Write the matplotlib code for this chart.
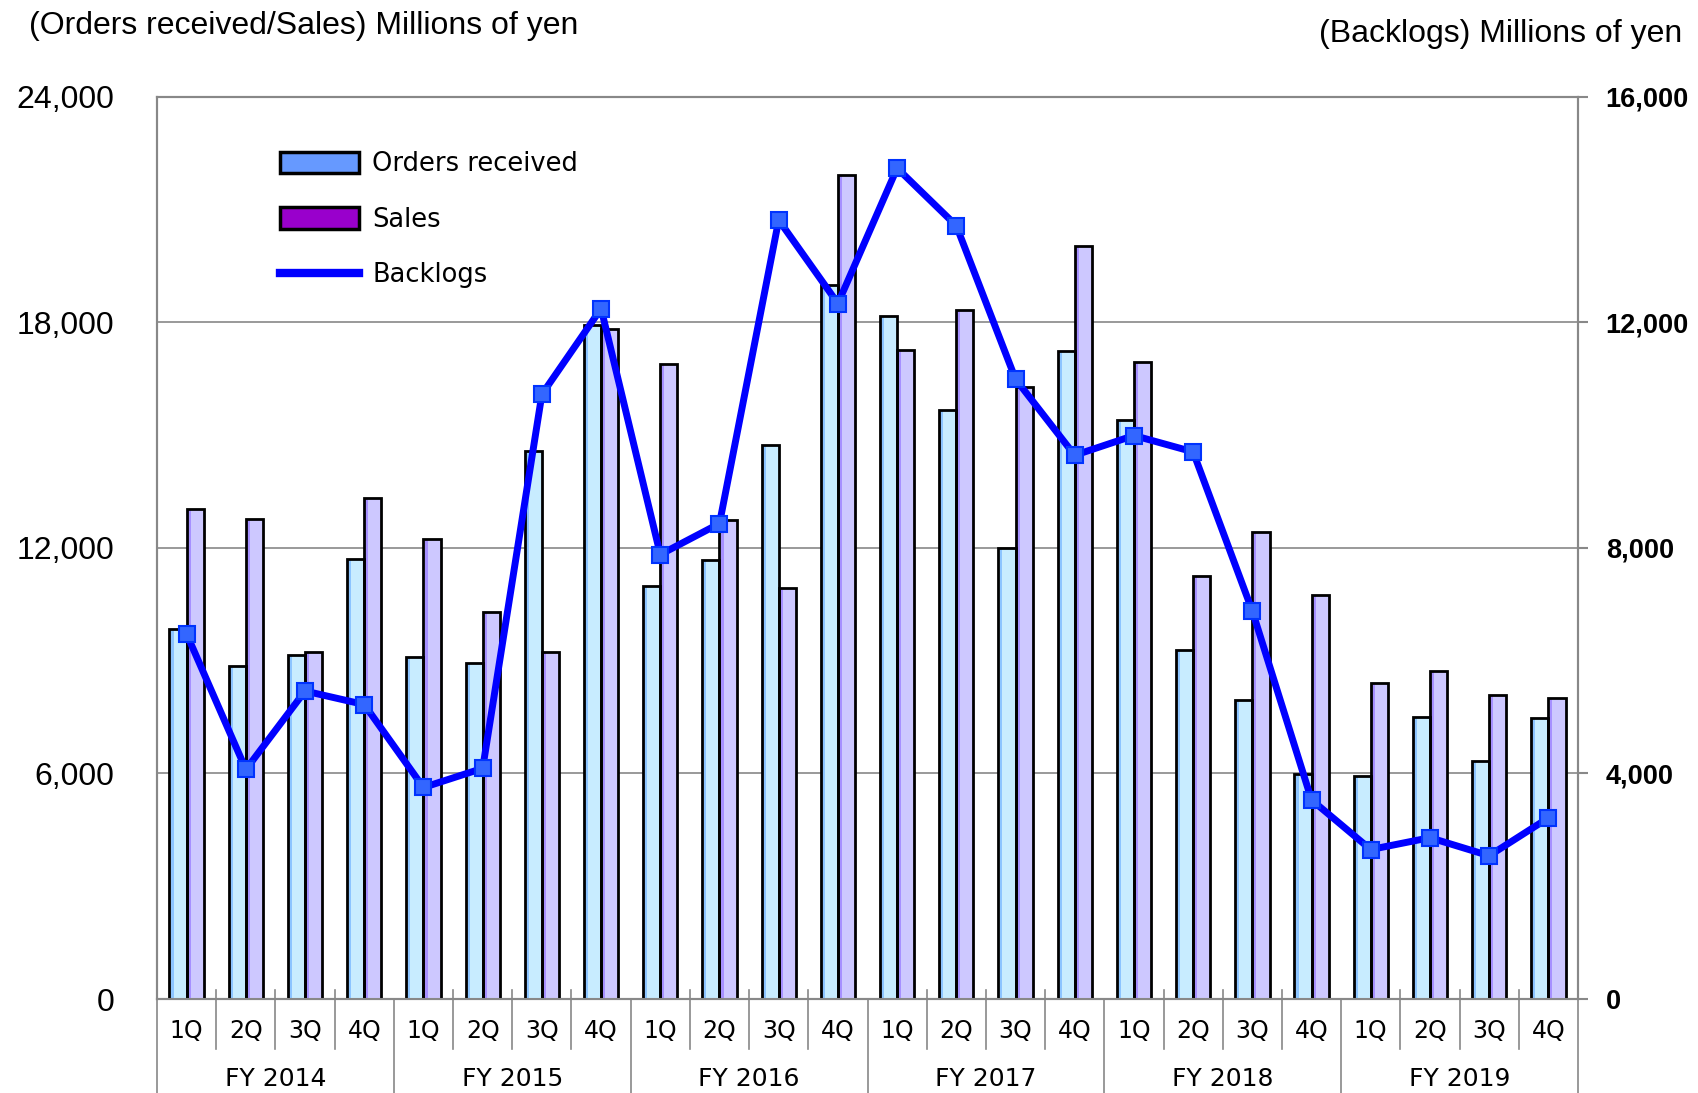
import numpy as np
import matplotlib
matplotlib.use('Agg')
import matplotlib.pyplot as plt
from matplotlib.patches import Patch
from matplotlib.lines import Line2D
import matplotlib.transforms as mtransforms

# Data (millions of yen)
years = ['FY 2014', 'FY 2015', 'FY 2016', 'FY 2017', 'FY 2018', 'FY 2019']
quarters = ['1Q', '2Q', '3Q', '4Q']

orders = [9850, 8850, 9160, 11700,
          9100, 8930, 14580, 17920,
          10980, 11670, 14720, 18990,
          18150, 15670, 11990, 17230,
          15410, 9280, 7950, 5990,
          5920, 7500, 6340, 7460]

sales = [13020, 12760, 9220, 13310,
         12220, 10290, 9220, 17830,
         16880, 12730, 10920, 21920,
         17260, 18320, 16280, 20020,
         16940, 11260, 12420, 10750,
         8410, 8730, 8090, 8000]

backlogs = [6470, 4070, 5460, 5220,
            3750, 4090, 10720, 12240,
            7880, 8430, 13810, 12330,
            14730, 13710, 10990, 9640,
            9990, 9700, 6880, 3530,
            2650, 2860, 2540, 3210]

x = np.arange(len(orders))
w = 0.29
sw = 0.05  # darker shading stripe inside each bar

fig = plt.figure(figsize=(16.98, 10.93), dpi=100)
ax = fig.add_axes([0.0925, 0.086, 0.8368, 0.8257])

# bars: fill, shading stripe, then outline on top
ax.bar(x - w / 2, orders, width=w, color='#c8ecff', linewidth=0, zorder=3)
ax.bar(x - w + sw / 2 + 0.02, orders, width=sw, color='#8cc4ff', linewidth=0, zorder=3.2)
ax.bar(x - w / 2, orders, width=w, facecolor='none', edgecolor='black', linewidth=2, zorder=3.4)

ax.bar(x + w / 2, sales, width=w, color='#cdc8ff', linewidth=0, zorder=3)
ax.bar(x + sw / 2 + 0.02, sales, width=sw, color='#a690ff', linewidth=0, zorder=3.2)
ax.bar(x + w / 2, sales, width=w, facecolor='none', edgecolor='black', linewidth=2, zorder=3.4)

ax.set_xlim(-0.5, len(orders) - 0.5)
ax.set_ylim(0, 24000)
ax.set_yticks(np.arange(0, 24001, 6000))
ax.yaxis.set_major_formatter(matplotlib.ticker.StrMethodFormatter('{x:,.0f}'))
ax.tick_params(axis='y', length=0, pad=31, labelsize=23, labelfontfamily='Liberation Sans')
ax.grid(axis='y', color='#888888', linewidth=1.2, zorder=0)
ax.set_xticks([])
for s in ax.spines.values():
    s.set_color('#888888')
    s.set_linewidth(1.5)

ax2 = ax.twinx()
ax2.plot(x, backlogs, color='#0000ff', linewidth=5, marker='s', markersize=12,
         markerfacecolor='#3366ff', markeredgecolor='#0033ff', markeredgewidth=1.5, zorder=5)
ax2.set_ylim(0, 16000)
ax2.set_yticks(np.arange(0, 16001, 4000))
ax2.yaxis.set_major_formatter(matplotlib.ticker.StrMethodFormatter('{x:,.0f}'))
ax2.tick_params(axis='y', length=7, width=1.5, color='#888888', pad=13,
                labelsize=19.5, labelfontfamily='Liberation Sans')
for s in ax2.spines.values():
    s.set_color('#888888')
    s.set_linewidth(1.5)

# category separators below the axis
trans = mtransforms.blended_transform_factory(ax.transData, ax.transAxes)
for i in range(len(orders) + 1):
    b = i - 0.5
    if i % 4 == 0:
        ax.plot([b, b], [0.0, -0.12], transform=trans, color='#888888',
                linewidth=1.2, clip_on=False)
    else:
        ax.plot([b, b], [0.01, -0.055], transform=trans, color='#888888',
                linewidth=1.2, clip_on=False)

for i in range(len(orders)):
    ax.text(i, -0.036, quarters[i % 4], transform=trans, ha='center', va='center',
            fontsize=17, family='DejaVu Sans')
for j, yl in enumerate(years):
    ax.text(4 * j + 1.5, -0.089, yl, transform=trans, ha='center', va='center',
            fontsize=18, family='DejaVu Sans')

fig.text(0.017, 0.976, '(Orders received/Sales) Millions of yen', ha='left', va='center',
         fontsize=23, family='Liberation Sans')
fig.text(0.991, 0.969, '(Backlogs) Millions of yen', ha='right', va='center',
         fontsize=23, family='Liberation Sans')

handles = [Patch(facecolor='#6699ff', edgecolor='black', linewidth=2.5),
           Patch(facecolor='#9900cc', edgecolor='black', linewidth=2.5),
           Line2D([0], [0], color='#0000ff', linewidth=6)]
leg = ax.legend(handles, ['Orders received', 'Sales', 'Backlogs'],
                loc='upper left', bbox_to_anchor=(0.07, 0.965), frameon=False,
                fontsize=18.5, handlelength=3.1, handleheight=0.9,
                labelspacing=1.15, handletextpad=0.5)
for t in leg.get_texts():
    t.set_family('DejaVu Sans')

# make the right-hand tick labels bold once the ticks exist
fig.canvas.draw()
for tk in ax2.yaxis.get_major_ticks():
    tk.label2.set_fontweight('bold')

fig.savefig('out.png', dpi=100)
